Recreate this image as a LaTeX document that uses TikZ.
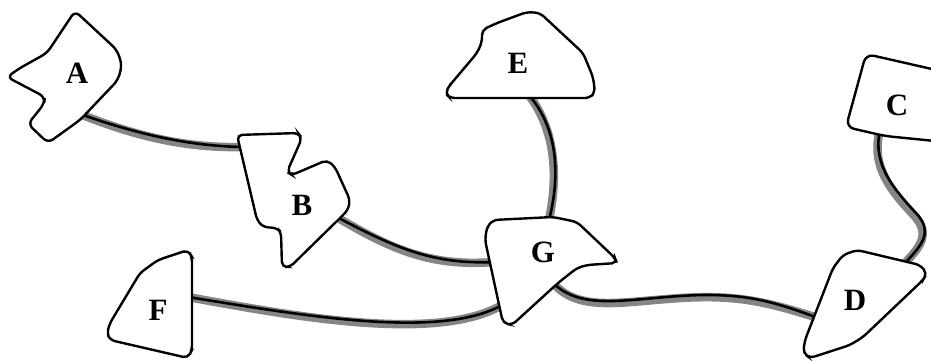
\documentclass[tikz,border=0pt]{standalone}
\usepackage{fontspec}
\setmainfont{Liberation Serif}

\newcommand{\wire}[1]{%
  \draw[wire shade] #1;
  \draw[wire] #1;}

\begin{document}
\begin{tikzpicture}[
    x=1pt, y=-1pt,
    blob/.style={draw=black, line width=2.4pt, fill=white, rounded corners=5pt},
    tag/.style={font=\fontsize{31}{31}\selectfont\bfseries, inner sep=0pt},
    wire/.style={draw=black, line width=2.6pt},
    wire shade/.style={draw=black!48, line width=8.5pt, shift={(-2.2,2.2)}}
  ]
  \useasboundingbox (0,0) rectangle (931,360);

  % ports on the blobs
  \coordinate (a-out) at (80,114);
  \coordinate (b-in)  at (243,147);
  \coordinate (b-out) at (333,215);
  \coordinate (g-w)   at (494,262);
  \coordinate (e-out) at (528,94);
  \coordinate (g-n)   at (548,224);
  \coordinate (f-out) at (188,297);
  \coordinate (g-sw)  at (502,305);
  \coordinate (g-se)  at (552,282);
  \coordinate (d-w)   at (818,318);
  \coordinate (c-out) at (880,130);
  \coordinate (d-n)   at (903,266);

  % connectors, under the blobs
  \wire{(a-out) .. controls (140,135) and (190,146) .. (b-in)}
  \wire{(b-out) .. controls (390,245) and (430,265) .. (g-w)}
  \wire{(e-out) .. controls (560,130) and (560,180) .. (g-n)}
  \wire{(f-out) .. controls (300,315) and (440,340) .. (g-sw)}
  \wire{(g-se) .. controls (580,310) and (620,300) .. (680,296)
    .. controls (740,292) and (770,300) .. (d-w)}
  \wire{(c-out) .. controls (872,165) and (895,190) .. (915,212)
    .. controls (938,235) and (915,250) .. (d-n)}

  % blobs
  \draw[blob, rounded corners=6pt] (75,11) -- (117,50) -- (122,65) -- (118,80) -- (80,120)
    -- (48,143) -- (28,124) -- (44,104) -- (45,97) -- (7,77) -- (20,68) -- (47,53) -- cycle;
  \draw[blob] (237,135) -- (298,133) -- (302,138) -- (287,172) -- (292,175) -- (327,160)
    -- (335,167) -- (350,200) -- (348,210) -- (338,220) -- (290,267) -- (282,267)
    -- (281,232) -- (277,228) -- (263,227) -- (257,220) -- cycle;
  \draw[blob, rounded corners=8pt] (866,54) -- (945,72) -- (945,142) -- (885,136)
    -- (846,127) -- cycle;
  \draw[blob] (857,250) -- (920,265) -- (927,273) -- (923,280) -- (863,337) -- (850,345)
    -- (810,358) -- (803,353) -- (805,340) -- (833,268) -- (843,255) -- cycle;
  \draw[blob] (527,12) -- (540,13) -- (583,53) -- (593,77) -- (595,92) -- (590,98)
    -- (450,98) -- (445,93) -- (450,85) -- (477,53) -- (482,42) -- (482,30)
    -- (497,23) -- cycle;
  \draw[blob] (188,250) -- (192,257) -- (192,350) -- (188,358) -- (110,340) -- (107,333)
    -- (110,323) -- (140,273) -- (158,260) -- cycle;
  \draw[blob] (493,220) -- (553,217) -- (577,222) -- (615,258) -- (617,263) -- (587,265)
    -- (577,268) -- (558,283) -- (512,325) -- (503,323) -- (485,240) -- (487,227) -- cycle;

  % labels
  \node[tag] (A) at (77,73)   {A};
  \node[tag] (B) at (302,205) {B};
  \node[tag] (C) at (897,105) {C};
  \node[tag] (D) at (855,300) {D};
  \node[tag] (E) at (518,63)  {E};
  \node[tag] (F) at (158,310) {F};
  \node[tag] (G) at (543,252) {G};
\end{tikzpicture}
\end{document}
